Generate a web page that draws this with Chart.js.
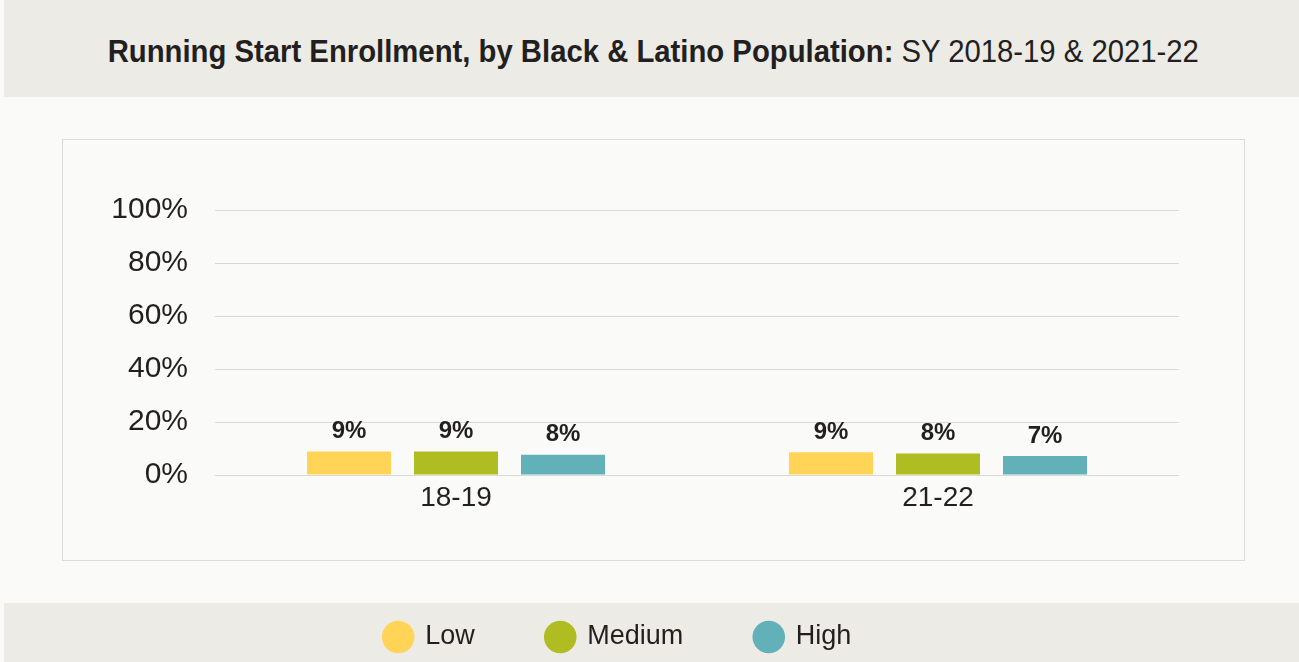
<!DOCTYPE html>
<html><head><meta charset="utf-8">
<script src="https://cdn.jsdelivr.net/npm/chart.js@4"></script>
<style>
html,body{margin:0;padding:0;background:#FAFAF8;width:1299px;height:662px;overflow:hidden;font-family:'Liberation Sans Narrow','Liberation Sans',sans-serif;}
#title{position:absolute;left:4px;top:0;width:1295px;height:97px;background:#ECEBE5;display:flex;align-items:center;justify-content:center;font-size:32px;color:#231F20;white-space:pre;}
#title span{display:inline-block;transform:translate(2px,3px) scaleX(0.915);}
#box{position:absolute;left:62px;top:139px;width:1181px;height:420px;border:1px solid #DCDCDA;}
#legendband{position:absolute;left:4px;top:603px;width:1295px;height:59px;background:#ECEBE5;}
#wrap{position:absolute;left:0;top:97px;width:1299px;height:565px;}
</style>
</head><body>
<div id="title"><span><b>Running Start Enrollment, by Black &amp; Latino Population:</b> SY 2018-19 &amp; 2021-22</span></div>
<div id="box"></div>
<div id="legendband"></div>
<div id="wrap"><canvas id="c" width="1299" height="565"></canvas></div>
<script>
const categories = ['18-19', '21-22'];
const seriesNames = ['Low', 'Medium', 'High'];
const lowValues = [8.9, 8.6];
const mediumValues = [8.9, 8.1];
const highValues = [7.6, 7.2];
const yTickValues = [0, 20, 40, 60, 80, 100];
const seriesColors = ['#FFD457', '#AFBC22', '#62B0B8'];

const FONT = "'Liberation Sans Narrow','Liberation Sans',sans-serif";
const TEXT = '#231F20';

const valueLabels = {
  id: 'valueLabels',
  afterDatasetsDraw(chart) {
    const ctx = chart.ctx;
    ctx.save();
    ctx.font = 'bold 24px ' + FONT;
    ctx.fillStyle = TEXT;
    ctx.textAlign = 'center';
    ctx.textBaseline = 'bottom';
    chart.data.datasets.forEach((ds, di) => {
      const meta = chart.getDatasetMeta(di);
      meta.data.forEach((el, i) => {
        ctx.fillText(Math.round(ds.data[i]) + '%', el.x, el.y - 8);
      });
    });
    ctx.restore();
  }
};

new Chart(document.getElementById('c'), {
  type: 'bar',
  data: {
    labels: categories,
    datasets: [
      { label: seriesNames[0], data: lowValues, backgroundColor: seriesColors[0] },
      { label: seriesNames[1], data: mediumValues, backgroundColor: seriesColors[1] },
      { label: seriesNames[2], data: highValues, backgroundColor: seriesColors[2] }
    ]
  },
  options: {
    responsive: false,
    animation: false,
    devicePixelRatio: 1,
    layout: { padding: { left: 57, right: 120, top: 113, bottom: 1.5 } },
    datasets: { bar: { categoryPercentage: 0.666, barPercentage: 0.785, borderWidth: 0 } },
    scales: {
      x: {
        grid: { display: false, drawTicks: false },
        border: { display: false },
        ticks: { color: TEXT, font: { family: FONT, size: 28 }, padding: 6 },
        afterFit(s) { s.height = 76.5; }
      },
      y: {
        min: 0, max: 100,
        afterBuildTicks(s) { s.ticks = yTickValues.map(v => ({ value: v })); },
        grid: { color: '#D9D9D7', lineWidth: 1, drawTicks: false },
        border: { display: false },
        ticks: { color: TEXT, font: { family: FONT, size: 30 }, padding: 27, callback: v => v + '%' },
        afterFit(s) { s.width = 158; }
      }
    },
    plugins: {
      legend: {
        position: 'bottom',
        labels: {
          usePointStyle: true,
          pointStyle: 'circle',
          boxWidth: 29,
          boxHeight: 23,
          padding: 72,
          color: TEXT,
          font: { family: FONT, size: 27 }
        }
      },
      tooltip: { enabled: false }
    }
  },
  plugins: [valueLabels]
});
</script>
</body></html>
